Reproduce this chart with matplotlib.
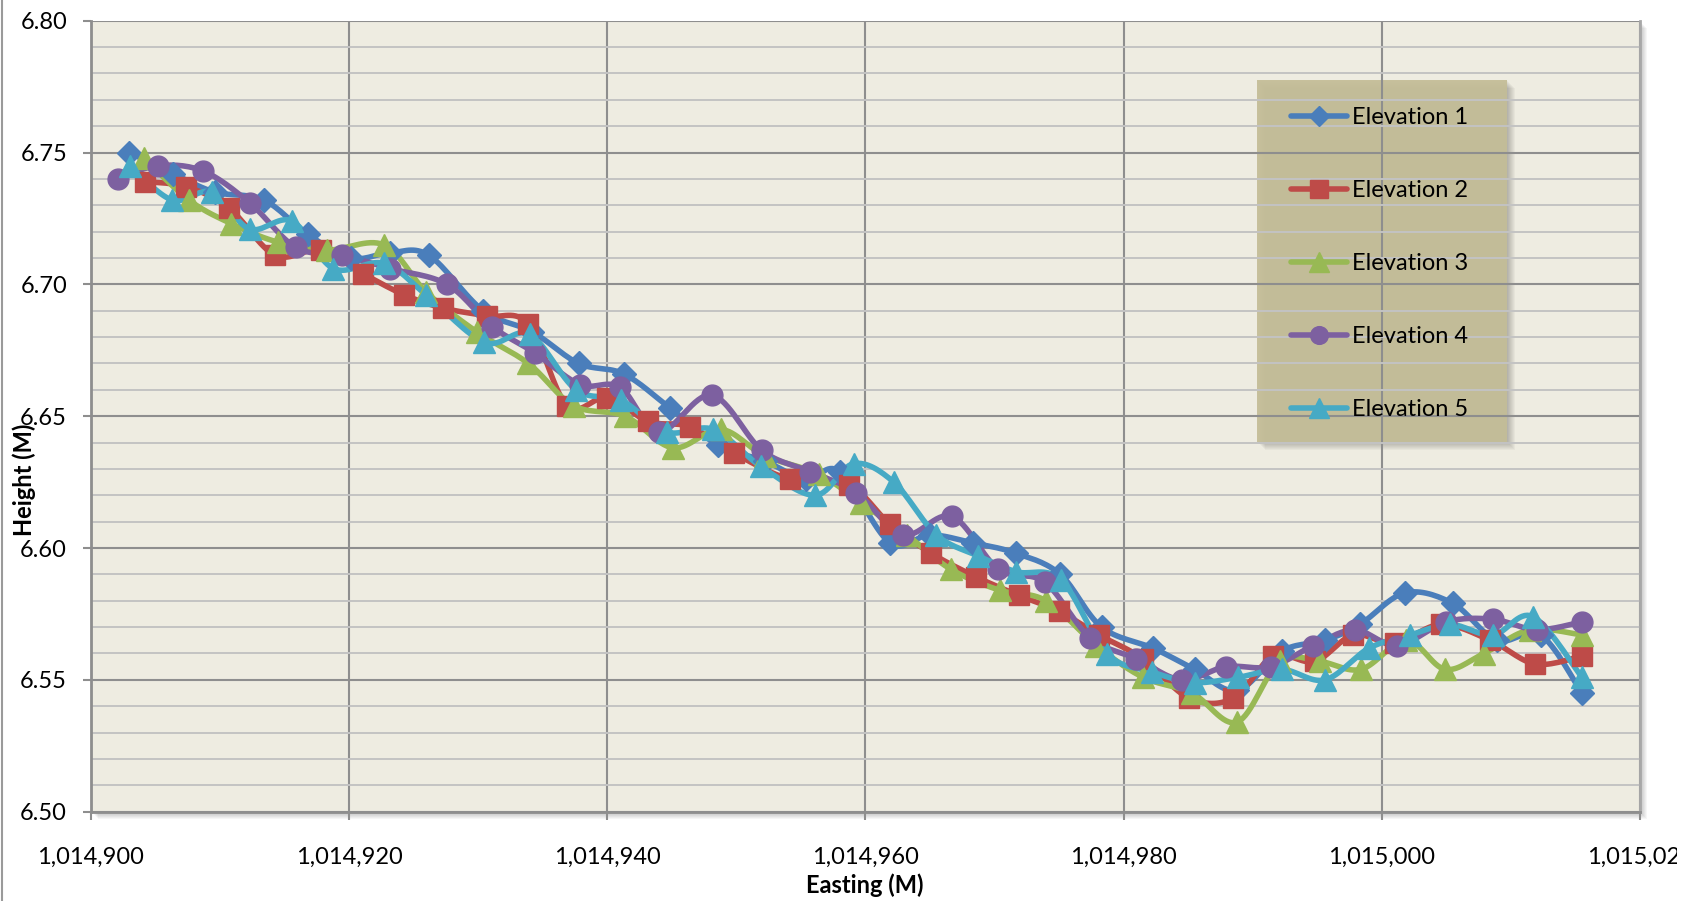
import numpy as np
import matplotlib
matplotlib.use('Agg')
import matplotlib.pyplot as plt
from matplotlib.patches import Rectangle
from matplotlib.lines import Line2D
from matplotlib.ticker import MultipleLocator, FuncFormatter

plt.rcParams['font.family'] = ['Lato', 'DejaVu Sans']

# ---- data ----
east_1 = [1014903.0, 1014906.4, 1014909.6, 1014913.4, 1014916.8, 1014920.2, 1014923.2, 1014926.2,
          1014930.4, 1014934.2, 1014937.8, 1014941.3, 1014944.9, 1014948.6, 1014952.2, 1014955.4,
          1014958.0, 1014961.9, 1014965.0, 1014968.3, 1014971.7, 1014975.1, 1014978.3, 1014982.3,
          1014985.5, 1014988.8, 1014992.3, 1014995.6, 1014998.3, 1015001.8, 1015005.5, 1015008.9,
          1015012.3, 1015015.5]
elev_1 = [6.750, 6.742, 6.735, 6.732, 6.719, 6.710, 6.712, 6.711, 6.690, 6.682, 6.670, 6.666,
          6.653, 6.639, 6.633, 6.626, 6.629, 6.602, 6.605, 6.602, 6.598, 6.590, 6.570, 6.562,
          6.554, 6.546, 6.561, 6.565, 6.571, 6.583, 6.579, 6.565, 6.567, 6.545]

east_2 = [1014904.2, 1014907.4, 1014910.7, 1014914.3, 1014917.8, 1014921.1, 1014924.3, 1014927.3,
          1014930.7, 1014933.9, 1014936.9, 1014940.0, 1014943.2, 1014946.4, 1014949.8, 1014954.2,
          1014958.7, 1014961.9, 1014965.1, 1014968.6, 1014971.9, 1014975.0, 1014978.1, 1014981.5,
          1014985.1, 1014988.5, 1014991.6, 1014994.8, 1014997.8, 1015001.0, 1015004.6, 1015008.4,
          1015011.9, 1015015.5]
elev_2 = [6.739, 6.737, 6.729, 6.711, 6.713, 6.704, 6.696, 6.691, 6.688, 6.685, 6.654, 6.657,
          6.648, 6.646, 6.636, 6.626, 6.624, 6.609, 6.598, 6.589, 6.582, 6.576, 6.567, 6.558,
          6.543, 6.543, 6.559, 6.557, 6.567, 6.564, 6.571, 6.565, 6.556, 6.559]

east_3 = [1014904.1, 1014907.6, 1014910.9, 1014914.5, 1014918.3, 1014922.7, 1014926.0, 1014929.9,
          1014933.9, 1014937.4, 1014941.4, 1014945.1, 1014948.8, 1014952.2, 1014956.4, 1014959.7,
          1014963.2, 1014966.6, 1014970.4, 1014974.0, 1014977.9, 1014981.5, 1014985.3, 1014988.8,
          1014992.1, 1014995.2, 1014998.4, 1015001.9, 1015004.9, 1015007.9, 1015011.5, 1015015.5]
elev_3 = [6.748, 6.732, 6.723, 6.716, 6.713, 6.715, 6.697, 6.682, 6.670, 6.654, 6.650, 6.638,
          6.645, 6.635, 6.628, 6.617, 6.605, 6.592, 6.584, 6.580, 6.563, 6.551, 6.545, 6.534,
          6.557, 6.557, 6.554, 6.565, 6.554, 6.560, 6.569, 6.567]

east_4 = [1014902.1, 1014905.2, 1014908.7, 1014912.3, 1014915.9, 1014919.5, 1014923.2, 1014927.6,
          1014931.1, 1014934.4, 1014937.9, 1014941.0, 1014944.0, 1014948.1, 1014952.0, 1014955.7,
          1014959.3, 1014962.9, 1014966.7, 1014970.3, 1014973.9, 1014977.4, 1014981.0, 1014984.5,
          1014987.9, 1014991.4, 1014994.7, 1014997.9, 1015001.2, 1015005.0, 1015008.6, 1015012.0,
          1015015.5]
elev_4 = [6.740, 6.745, 6.743, 6.731, 6.714, 6.711, 6.706, 6.700, 6.684, 6.674, 6.662, 6.661,
          6.644, 6.658, 6.637, 6.629, 6.621, 6.605, 6.612, 6.592, 6.587, 6.566, 6.558, 6.550,
          6.555, 6.555, 6.563, 6.569, 6.563, 6.572, 6.573, 6.569, 6.572]

east_5 = [1014903.05, 1014906.3, 1014909.4, 1014912.3, 1014915.6, 1014918.8, 1014922.7, 1014926.0,
          1014930.5, 1014934.0, 1014937.6, 1014941.1, 1014944.6, 1014948.2, 1014951.9, 1014956.1,
          1014959.1, 1014962.2, 1014965.5, 1014968.75, 1014971.7, 1014975.15, 1014978.7, 1014982.2,
          1014985.5, 1014988.9, 1014992.25, 1014995.6, 1014999.0, 1015002.2, 1015005.3, 1015008.6,
          1015011.7, 1015015.5]
elev_5 = [6.745, 6.732, 6.735, 6.721, 6.724, 6.706, 6.708, 6.696, 6.678, 6.681, 6.660, 6.656,
          6.644, 6.645, 6.631, 6.620, 6.632, 6.625, 6.605, 6.597, 6.591, 6.588, 6.560, 6.553,
          6.549, 6.551, 6.554, 6.550, 6.562, 6.567, 6.571, 6.567, 6.574, 6.551]

labels = ['Elevation 1', 'Elevation 2', 'Elevation 3', 'Elevation 4', 'Elevation 5']
colors = ['#4A7EBB', '#BE4B48', '#98B954', '#7D60A0', '#46AAC5']
markers = ['D', 's', '^', 'o', '^']
msizes = [12, 15, 16.5, 15, 16.5]
FS = 17


def smooth(x, y, n=16):
    # excel style smoothed line (catmull-rom through the points)
    P = np.column_stack([x, y]).astype(float)
    Q = np.vstack([P[0], P, P[-1]])
    t = np.linspace(0, 1, n, endpoint=False)[:, None]
    h00 = 2 * t**3 - 3 * t**2 + 1
    h10 = t**3 - 2 * t**2 + t
    h01 = -2 * t**3 + 3 * t**2
    h11 = t**3 - t**2
    out = []
    for i in range(len(P) - 1):
        p0, p1, p2, p3 = Q[i], Q[i + 1], Q[i + 2], Q[i + 3]
        m1 = (p2 - p0) / 2
        m2 = (p3 - p1) / 2
        out.append(h00 * p1 + h10 * m1 + h01 * p2 + h11 * m2)
    out.append(P[-1][None, :])
    out = np.vstack(out)
    return out[:, 0], out[:, 1]


W, H = 1698, 901
L, R, T, B = 90.7, 1640, 20.7, 811.7
fig = plt.figure(figsize=(W / 100, H / 100), dpi=100)
fig.patch.set_facecolor('white')
ax = fig.add_axes([L / W, 1 - B / H, (R - L) / W, (B - T) / H])
ax.set_facecolor('#EEECE1')

# drop shadow of the plot area
for k in range(1, 8):
    fig.add_artist(Rectangle((L / W + k / W, 1 - B / H - k / H), (R - L) / W, (B - T) / H,
                             transform=fig.transFigure, facecolor='black', alpha=0.035,
                             edgecolor='none', zorder=-1))

# left border of chart area
fig.add_artist(Line2D([1.5 / W, 1.5 / W], [0, 1], transform=fig.transFigure,
                      color='#9A9A9A', lw=1.5))

series = [(east_1, elev_1), (east_2, elev_2), (east_3, elev_3), (east_4, elev_4), (east_5, elev_5)]
handles = []
for (ex, ey), c, m, ms, lab in zip(series, colors, markers, msizes, labels):
    sx, sy = smooth(ex, ey)
    ax.plot(sx, sy, color=c, lw=4.0, solid_capstyle='round', solid_joinstyle='round', zorder=3)
    ax.plot(ex, ey, linestyle='none', marker=m, ms=ms, color=c, mec=c, zorder=4)
    handles.append(Line2D([], [], color=c, lw=4.0, marker=m, ms=ms * 0.85, mec=c,
                          solid_capstyle='round'))

ax.set_xlim(1014900, 1015020)
ax.set_ylim(6.50, 6.80)
ax.xaxis.set_major_locator(MultipleLocator(20))
ax.yaxis.set_major_locator(MultipleLocator(0.05))
ax.yaxis.set_minor_locator(MultipleLocator(0.01))
ax.xaxis.set_major_formatter(FuncFormatter(lambda v, p: f'{v:,.0f}'))
ax.yaxis.set_major_formatter(FuncFormatter(lambda v, p: f'{v:.2f}'))

ax.grid(which='minor', axis='y', color='#C3C3C3', lw=1.4)
ax.grid(which='major', axis='y', color='#8E8E8E', lw=1.5)
ax.grid(which='major', axis='x', color='#8E8E8E', lw=1.5)
ax.tick_params(which='minor', length=0)
ax.tick_params(axis='both', which='major', direction='out', length=6, width=1.5,
               color='#8E8E8E', labelsize=FS)
ax.tick_params(axis='y', pad=11)
ax.tick_params(axis='x', pad=19)

ax.spines['top'].set_visible(False)
ax.spines['left'].set_color('#8E8E8E')
ax.spines['left'].set_linewidth(2)
ax.spines['bottom'].set_color('#8E8E8E')
ax.spines['bottom'].set_linewidth(2)
ax.spines['right'].set_color('#A8A8A8')
ax.spines['right'].set_linewidth(2)

# legend box (semi transparent tan with shadow)
lx0, ly0, lx1, ly1 = 1257, 80, 1507, 442
for k in range(1, 9):
    ax.add_patch(Rectangle((lx0 / W + k / W, 1 - ly1 / H - k / H), (lx1 - lx0) / W, (ly1 - ly0) / H,
                           transform=fig.transFigure, facecolor='black', alpha=0.03,
                           edgecolor='none', zorder=1.1))
ax.add_patch(Rectangle((lx0 / W, 1 - ly1 / H), (lx1 - lx0) / W, (ly1 - ly0) / H,
                       transform=fig.transFigure, facecolor='#C4BD97', alpha=0.93,
                       edgecolor='none', zorder=1.2))
leg = ax.legend(handles, labels, loc='upper left', bbox_to_anchor=(1291 / W, 1 - 107 / H),
                bbox_transform=fig.transFigure, frameon=False, borderpad=0, borderaxespad=0,
                handlelength=2.37, handletextpad=0.21, labelspacing=2.2, fontsize=FS,
                numpoints=1)
leg.set_zorder(6)

fig.text(865 / W, 1 - 885 / H, 'Easting (M)', ha='center', va='center',
         fontsize=FS, fontweight='bold')
fig.text(24 / W, 1 - 480 / H, 'Height (M)', ha='center', va='center', rotation=90,
         fontsize=FS, fontweight='bold')

# last tick label is cut at the edge of the chart area
fig.add_artist(Rectangle((1677 / W, 0), (W - 1677) / W, 0.09, transform=fig.transFigure,
                         facecolor='white', edgecolor='none', zorder=10))

fig.savefig('out.png', dpi=100, facecolor='white')
